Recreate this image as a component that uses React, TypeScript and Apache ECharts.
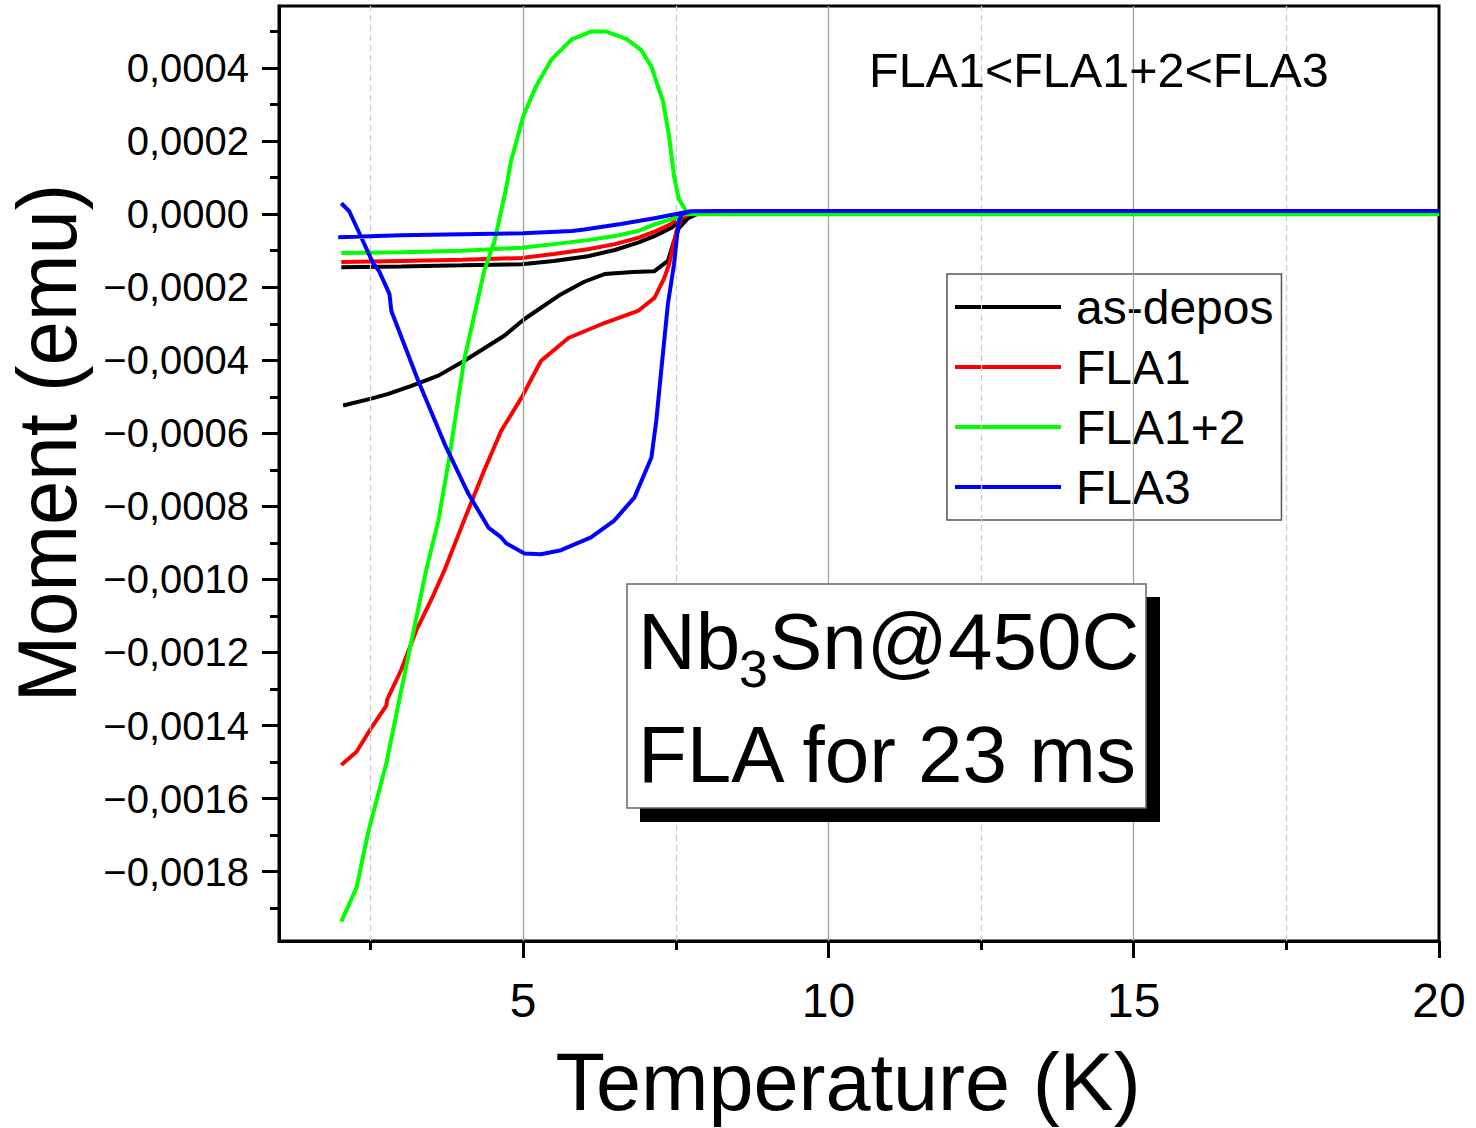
import React, { useEffect, useRef } from "react";
import * as echarts from "echarts";

const FONT = '"Liberation Sans", Arial, Helvetica, sans-serif';

// Axis ticks / labels
const xMajorTicks = [5, 10, 15, 20];
const xMinorTicks = [2.5, 7.5, 12.5, 17.5];
const xMajorGrid = [5, 10, 15];
const xMinorGrid = [2.5, 7.5, 12.5, 17.5];
const yMajorTicks = [-0.0018, -0.0016, -0.0014, -0.0012, -0.001, -0.0008, -0.0006, -0.0004, -0.0002, 0, 0.0002, 0.0004];
const yMinorTicks = [-0.0019, -0.0017, -0.0015, -0.0013, -0.0011, -0.0009, -0.0007, -0.0005, -0.0003, -0.0001, 0.0001, 0.0003, 0.0005];

const seriesNames = ["as-depos", "FLA1", "FLA1+2", "FLA3"];
const seriesColors = ["#000000", "#ff0000", "#00ff00", "#0000ff"];

// as-depos: ZFC (warming) then FC (cooling)
const asDeposZFC = [
  [2.05, -0.000524], [2.51, -0.000505], [2.79, -0.000492], [3.17, -0.00047], [3.61, -0.000442],
  [4.03, -0.000402], [4.69, -0.000333], [5.02, -0.000287], [5.62, -0.000219], [6.0, -0.000185],
  [6.33, -0.000164], [6.8, -0.000158], [7.15, -0.000156], [7.37, -0.000128], [7.47, -0.000074],
  [7.55, -0.000038], [7.7, -0.000011], [7.87, 0.000002], [8.5, 0.000006], [20, 0.000006],
];
const asDeposFC = [
  [20, 0.000006], [8.2, 0.000005], [7.8, 0.000001], [7.67, -0.000005], [7.42, -0.000038],
  [7.15, -0.00006], [6.88, -0.000078], [6.5, -0.000098], [6.06, -0.000115], [5.5, -0.000128],
  [4.97, -0.000137], [4.0, -0.00014], [3.0, -0.000143], [2.02, -0.000145],
];

// FLA1
const fla1ZFC = [
  [2.02, -0.001508], [2.27, -0.001472], [2.51, -0.001407], [2.76, -0.001345], [2.77, -0.00133],
  [3.0, -0.001248], [3.25, -0.001139], [3.49, -0.001057], [3.71, -0.000975], [4.03, -0.000839],
  [4.36, -0.000702], [4.64, -0.000593], [4.97, -0.000503], [5.29, -0.000402], [5.74, -0.000339],
  [6.33, -0.000298], [6.88, -0.000265], [7.15, -0.000229], [7.31, -0.000175], [7.39, -0.000137],
  [7.51, -0.000046], [7.59, -0.000011], [7.75, 0.000003], [8.5, 0.000005], [20, 0.000005],
];
const fla1FC = [
  [20, 0.000005], [8.2, 0.000005], [7.8, 0.000002], [7.62, -0.000001], [7.42, -0.000027],
  [7.15, -0.000048], [6.88, -0.000065], [6.5, -0.000082], [6.06, -0.000096], [5.5, -0.000109],
  [4.97, -0.00012], [4.0, -0.000125], [3.0, -0.000128], [2.02, -0.000131],
];

// FLA1+2
const fla12ZFC = [
  [2.02, -0.001937], [2.27, -0.001844], [2.46, -0.001693], [2.76, -0.001502], [2.97, -0.00133],
  [3.41, -0.000975], [3.61, -0.000839], [3.79, -0.000666], [4.03, -0.000402], [4.36, -0.000156],
  [4.53, -0.000074], [4.72, 0.000071], [4.8, 0.000145], [5.0, 0.000268], [5.21, 0.00035],
  [5.46, 0.000423], [5.79, 0.000478], [6.11, 0.0005], [6.36, 0.0005], [6.69, 0.00048],
  [6.93, 0.00045], [7.1, 0.000404], [7.29, 0.000309], [7.39, 0.000213], [7.47, 0.000104],
  [7.55, 0.000041], [7.67, 0.000008], [7.83, 0.000003], [8.5, 0.0], [20, 0.0],
];
const fla12FC = [
  [20, 0.0], [8.2, 0.0], [7.64, 0.0], [7.42, -0.000014], [7.15, -0.000028], [6.88, -0.000046],
  [6.5, -0.00006], [6.06, -0.000071], [5.5, -0.000082], [4.97, -0.000092], [4.0, -0.0001],
  [3.0, -0.000104], [2.02, -0.000106],
];

// FLA3
const fla3ZFC = [
  [2.02, 0.00003], [2.15, 0.000008], [2.3, -0.000046], [2.54, -0.000134], [2.64, -0.000156],
  [2.81, -0.000219], [2.84, -0.000265], [3.28, -0.000456], [3.71, -0.000628], [4.1, -0.000765],
  [4.43, -0.000858], [4.64, -0.000885], [4.72, -0.000901], [5.02, -0.000929], [5.29, -0.000931],
  [5.62, -0.00092], [6.11, -0.000885], [6.49, -0.000839], [6.82, -0.000776], [7.1, -0.000666],
  [7.18, -0.000565], [7.26, -0.000429], [7.37, -0.000246], [7.47, -0.000137], [7.54, -0.000027],
  [7.59, 0.0], [7.75, 0.000008], [8.5, 0.000009], [20, 0.000009],
];
const fla3FC = [
  [20, 0.000009], [8.2, 0.000009], [7.75, 0.000008], [7.59, 0.000003], [7.15, -0.000011],
  [6.6, -0.000027], [6.0, -0.000042], [5.8, -0.000046], [5.0, -0.000052], [4.0, -0.000055],
  [3.0, -0.000058], [1.97, -0.000063],
];

const seriesData = [
  [...asDeposZFC, ...asDeposFC],
  [...fla1ZFC, ...fla1FC],
  [...fla12ZFC, ...fla12FC],
  [...fla3ZFC, ...fla3FC],
];

const fmtY = (v: number) => {
  const s = Math.abs(v).toFixed(4).replace(".", ",");
  return v < -1e-12 ? "\u2212" + s : s;
};

export default function App() {
  const ref = useRef<HTMLDivElement>(null);
  useEffect(() => {
    const chart = echarts.init(ref.current!, null, { renderer: "svg" });
    const axisBase = {
      type: "value",
      splitLine: { show: false },
    };
    const option: any = {
      animation: false,
      backgroundColor: "#ffffff",
      textStyle: { fontFamily: FONT },
      grid: {
        left: 279, right: 37, top: 6, bottom: 187,
        show: true, borderColor: "#000", borderWidth: 3, backgroundColor: "transparent",
      },
      xAxis: [
        {
          ...axisBase, min: 1, max: 20, position: "bottom",
          axisLine: { show: true, onZero: false, lineStyle: { color: "#000", width: 3 } },
          axisTick: { show: true, inside: false, length: 17, customValues: xMajorTicks, lineStyle: { color: "#000", width: 3 } },
          axisLabel: { show: true, customValues: xMajorTicks, margin: 35, fontSize: 48, color: "#000", fontFamily: FONT },
        },
        {
          ...axisBase, min: 1, max: 20, position: "bottom",
          axisLine: { show: false, onZero: false },
          axisTick: { show: true, inside: false, length: 9, customValues: xMinorTicks, lineStyle: { color: "#000", width: 3 } },
          axisLabel: { show: false },
        },
      ],
      yAxis: [
        {
          ...axisBase, min: -0.00199, max: 0.00057, position: "left",
          axisLine: { show: true, onZero: false, lineStyle: { color: "#000", width: 3 } },
          axisTick: { show: true, inside: false, length: 17, customValues: yMajorTicks, lineStyle: { color: "#000", width: 3 } },
          axisLabel: { show: true, customValues: yMajorTicks, margin: 30, fontSize: 40, color: "#000", fontFamily: FONT, formatter: fmtY },
        },
        {
          ...axisBase, min: -0.00199, max: 0.00057, position: "left",
          axisLine: { show: false, onZero: false },
          axisTick: { show: true, inside: false, length: 9, customValues: yMinorTicks, lineStyle: { color: "#000", width: 3 } },
          axisLabel: { show: false },
        },
      ],
      legend: {
        orient: "vertical",
        left: 947, top: 274,
        padding: [9, 8, 9, 8],
        itemWidth: 106, itemHeight: 4, itemGap: 12,
        icon: "rect",
        backgroundColor: "#ffffff",
        borderColor: "#555555", borderWidth: 1.5, borderRadius: 0,
        textStyle: { fontSize: 48, color: "#000", fontFamily: FONT, padding: [0, 0, 0, 10] },
        data: seriesNames,
      },
      series: [
        {
          type: "line", name: "_grid", data: [[1, -0.01]], showSymbol: false, silent: true, z: 1,
          lineStyle: { width: 0 },
          markLine: {
            silent: true, symbol: ["none", "none"], label: { show: false }, animation: false,
            data: [
              ...xMajorGrid.map((v) => ({ xAxis: v, lineStyle: { color: "#a0a0a0", width: 1.3, type: "solid" } })),
              ...xMinorGrid.map((v) => ({ xAxis: v, lineStyle: { color: "#c8c8c8", width: 1.2, type: [6, 4] } })),
            ],
          },
        },
        ...seriesNames.map((name, i) => ({
          type: "line",
          name,
          data: seriesData[i],
          showSymbol: false,
          symbol: "none",
          z: 3 + i,
          silent: true,
          color: seriesColors[i],
          lineStyle: { color: seriesColors[i], width: 4 },
          emphasis: { disabled: true },
        })),
      ],
      graphic: [
        {
          type: "text", x: 869, y: 70, z: 100,
          style: { text: "FLA1<FLA1+2<FLA3", fontSize: 48.5, fontFamily: FONT, fill: "#000", align: "left", verticalAlign: "middle" },
        },
        {
          type: "text", x: 848, y: 1082, z: 100,
          style: { text: "Temperature (K)", fontSize: 81, fontFamily: FONT, fill: "#000", align: "center", verticalAlign: "middle" },
        },
        {
          type: "text", x: 47, y: 443, rotation: Math.PI / 2, scaleX: 0.95, z: 100,
          style: { text: "Moment (emu)", fontSize: 84, fontFamily: FONT, fill: "#000", align: "center", verticalAlign: "middle" },
        },
        {
          type: "rect", z: 100,
          shape: { x: 640, y: 597, width: 520, height: 225 },
          style: { fill: "#000" },
        },
        {
          type: "rect", z: 101,
          shape: { x: 627, y: 584, width: 519, height: 224 },
          style: { fill: "#fff", stroke: "#666", lineWidth: 1.5 },
        },
        {
          type: "text", x: 638, y: 641, z: 102,
          style: { text: "Nb", fontSize: 80, fontFamily: FONT, fill: "#000", align: "left", verticalAlign: "middle" },
        },
        {
          type: "text", x: 739, y: 669, z: 102,
          style: { text: "3", fontSize: 52, fontFamily: FONT, fill: "#000", align: "left", verticalAlign: "middle" },
        },
        {
          type: "text", x: 769, y: 641, z: 102,
          style: { text: "Sn@450C", fontSize: 80, fontFamily: FONT, fill: "#000", align: "left", verticalAlign: "middle" },
        },
        {
          type: "text", x: 638, y: 754, z: 102,
          style: { text: "FLA for 23 ms", fontSize: 80, fontFamily: FONT, fill: "#000", align: "left", verticalAlign: "middle" },
        },
      ],
    };
    chart.setOption(option);
    return () => chart.dispose();
  }, []);
  return <div ref={ref} style={{ position: "fixed", left: 0, top: 0, width: 1476, height: 1128 }} />;
}
